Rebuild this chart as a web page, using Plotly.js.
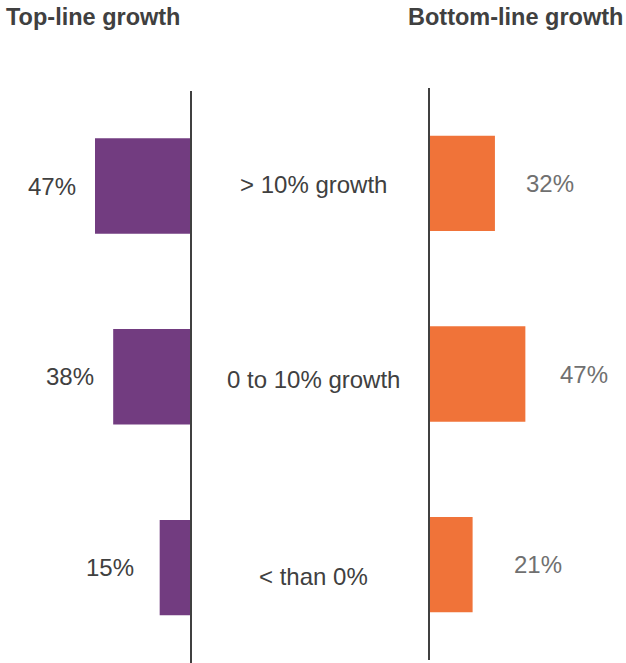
<!DOCTYPE html>
<html>
<head>
<meta charset="utf-8">
<script src="https://cdn.plot.ly/plotly-3.0.1.min.js"></script>
<style>html,body{margin:0;padding:0;background:#fff;}#chart{width:626px;height:663px;}</style>
</head>
<body>
<div id="chart"></div>
<script>
const categories = ["> 10% growth", "0 to 10% growth", "< than 0%"];
const topLine = [47, 38, 15];
const bottomLine = [32, 47, 21];
const leftTitle = "Top-line growth";
const rightTitle = "Bottom-line growth";

// label placement nudges (layout only, in px)
const leftNudge = [-17, -17, -24];
const rightNudge = [29, 33, 39];
const centerNudge = [2, -3, -9];

const FONT = "Arial, 'Liberation Sans', sans-serif";
const purple = "#723c80";
const orange = "#f07339";
const axisColor = "#404040";
const FS = 24;

const traces = [
  {type: "bar", orientation: "h", y: categories, x: topLine, xaxis: "x", yaxis: "y",
   marker: {color: purple}, hoverinfo: "none", showlegend: false},
  {type: "bar", orientation: "h", y: categories, x: bottomLine, xaxis: "x2", yaxis: "y2",
   marker: {color: orange}, hoverinfo: "none", showlegend: false}
];

const annotations = [];
categories.forEach((c, i) => {
  annotations.push({xref: "x", yref: "y", x: topLine[i], y: c, text: topLine[i] + "%",
    xanchor: "right", xshift: leftNudge[i], showarrow: false, font: {family: FONT, size: FS, color: "#404040"}});
  annotations.push({xref: "x2", yref: "y2", x: bottomLine[i], y: c, text: bottomLine[i] + "%",
    xanchor: "left", xshift: rightNudge[i], showarrow: false, font: {family: FONT, size: FS, color: "#707070"}});
  annotations.push({xref: "paper", yref: "y", x: 0.5, y: c, text: c, yshift: centerNudge[i],
    xanchor: "center", showarrow: false, font: {family: FONT, size: FS, color: "#404040"}});
});
annotations.push({xref: "paper", yref: "paper", x: 0, y: 1, yanchor: "middle", xanchor: "left",
  xshift: 4, yshift: 71, text: "<b>" + leftTitle + "</b>", showarrow: false, font: {family: FONT, size: 23.5, color: "#404040"}});
annotations.push({xref: "paper", yref: "paper", x: 1, y: 1, yanchor: "middle", xanchor: "right",
  xshift: -1, yshift: 71, text: "<b>" + rightTitle + "</b>", showarrow: false, font: {family: FONT, size: 23.5, color: "#404040"}});

const layout = {
  width: 626, height: 663,
  margin: {l: 0, r: 0, t: 88, b: 0, pad: 0},
  paper_bgcolor: "#fff", plot_bgcolor: "rgba(0,0,0,0)",
  bargap: 0.5,
  xaxis: {domain: [0, 190/626], range: [94, 0], visible: false, fixedrange: true},
  xaxis2: {domain: [430/626, 1], range: [0, 96.6], visible: false, fixedrange: true},
  yaxis: {domain: [0, 1 - 2.6/575], anchor: "x", side: "right", autorange: "reversed",
    showline: true, linecolor: axisColor, linewidth: 2, showticklabels: false, ticks: "",
    showgrid: false, zeroline: false},
  yaxis2: {domain: [3/575, 1], anchor: "x2", side: "left", autorange: "reversed",
    showline: true, linecolor: axisColor, linewidth: 2, showticklabels: false, ticks: "",
    showgrid: false, zeroline: false},
  annotations: annotations
};

Plotly.newPlot("chart", traces, layout, {displayModeBar: false, staticPlot: true});
</script>
</body>
</html>
